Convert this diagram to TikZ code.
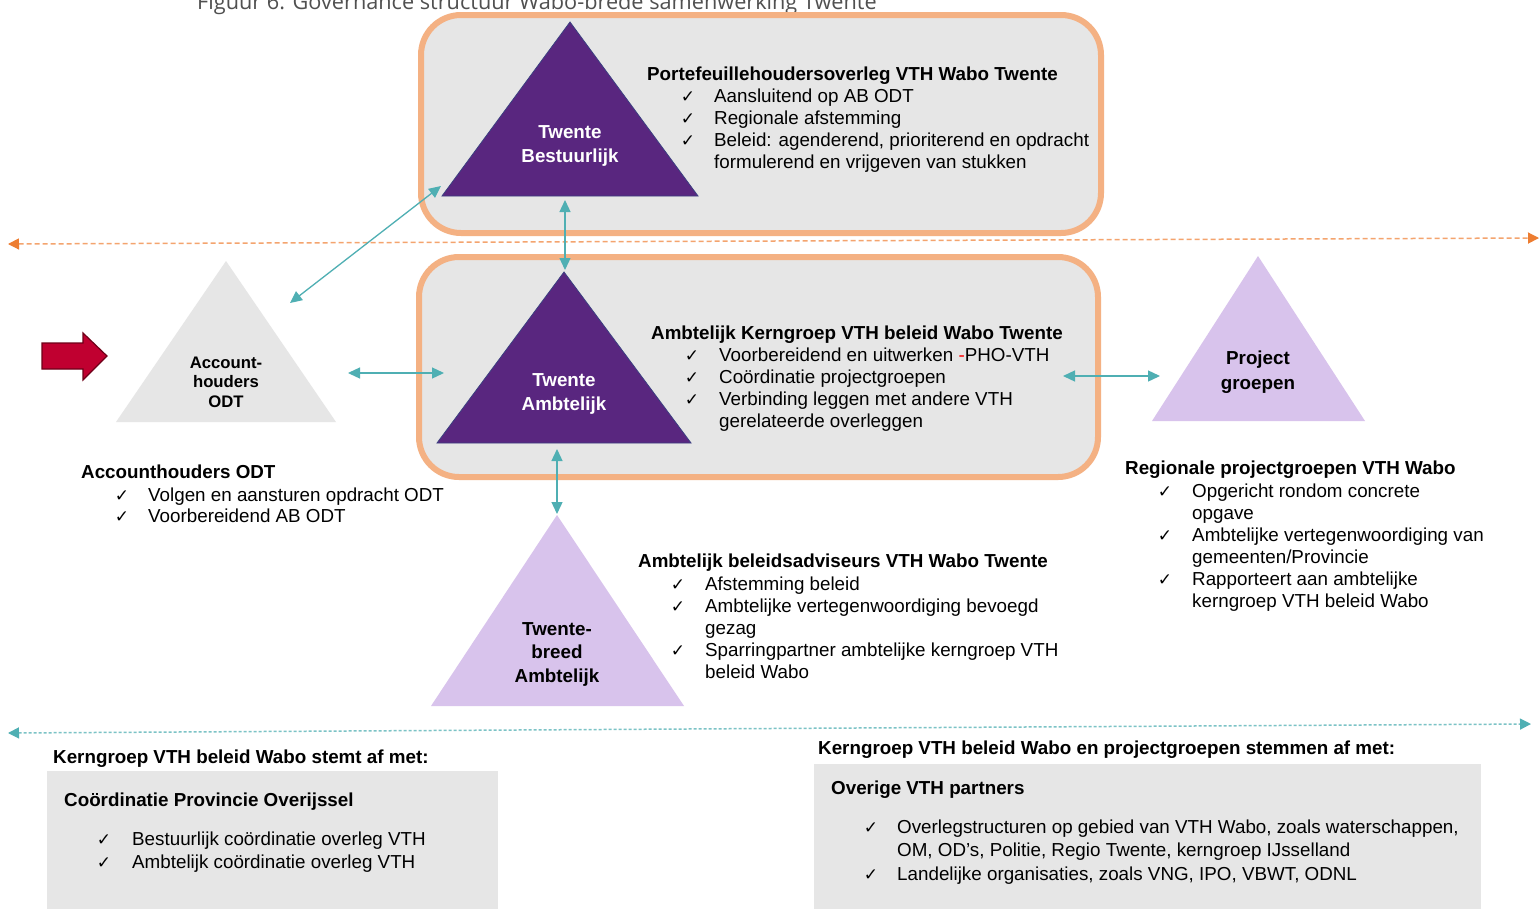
\documentclass[tikz,border=0pt]{standalone}
\usepackage{fontspec}
\setmainfont{Liberation Sans}
\newfontfamily\symf{DejaVu Sans}
\newfontfamily\capf{Open Sans}
\usetikzlibrary{arrows.meta}
\definecolor{orB}{HTML}{F4B183}
\definecolor{boxg}{HTML}{E6E6E6}
\definecolor{purp}{HTML}{59267F}
\definecolor{purpedge}{HTML}{3B3F80}
\definecolor{lav}{HTML}{D8C3EC}
\definecolor{tealc}{HTML}{4FAFB3}
\definecolor{oline}{HTML}{F4A46E}
\definecolor{otip}{HTML}{ED7D31}
\definecolor{redf}{HTML}{C00030}
\definecolor{redd}{HTML}{6E0018}
\definecolor{capg}{HTML}{505050}
\tikzset{
  roundbox/.style={draw=orB, line width=6pt, fill=boxg, rounded corners=40pt},
  tridark/.style={fill=purp, draw=purpedge, line width=0.8pt},
  trilav/.style={fill=lav},
  trigray/.style={fill=boxg},
  tritext/.style={align=center, inner sep=0, font=\bfseries\fontsize{18.8}{24.5}\selectfont},
  txt/.style={anchor=base west, inner sep=0, font=\fontsize{18.8}{22}\selectfont},
  ttl/.style={anchor=base west, inner sep=0, font=\bfseries\fontsize{18.8}{22}\selectfont},
  chk/.style={anchor=base, inner sep=0, font=\symf\fontsize{17}{22}\selectfont},
  link/.style={draw=tealc, line width=1.3pt, {Triangle[length=12pt,width=11pt]}-{Triangle[length=12pt,width=11pt]}},
  plainbox/.style={fill=boxg},
}
\begin{document}
\begin{tikzpicture}[x=1pt,y=-1pt]
\path[use as bounding box] (0,0) rectangle (1539,908);
\clip (0,0) rectangle (1539,908);
\fill[white] (0,0) rectangle (1539,908);

% caption (cut off at top, as in the reference)
\node[anchor=base west, inner sep=0, font=\capf\fontsize{21.7}{26}\selectfont, text=capg] (caption) at (197,9) {Figuur 6: Governance structuur Wabo-brede samenwerking Twente};

% rounded boxes
\draw[roundbox] (421,15) rectangle (1101,233);
\draw[roundbox] (419,257) rectangle (1098,477);

% separator lines
\coordinate (oL) at (8,244);
\coordinate (oR) at (1539,238);
\draw[draw=oline, line width=1.5pt, dash pattern=on 5pt off 3pt, {Triangle[length=11pt,width=11pt,color=otip]}-{Triangle[length=11pt,width=11pt,color=otip]}] (oL) -- (oR);
\coordinate (tL) at (8,733);
\coordinate (tR) at (1531,724);
\draw[draw=tealc!75, line width=1.5pt, dash pattern=on 3pt off 2pt, {Triangle[length=11pt,width=11pt,color=tealc]}-{Triangle[length=11pt,width=11pt,color=tealc]}] (tL) -- (tR);

% triangles
\draw[tridark] (570,22) -- (442,196) -- (698,196) -- cycle;
\draw[tridark] (564,272) -- (437,443) -- (691,443) -- cycle;
\fill[trigray] (226,261) -- (116,422) -- (336,422) -- cycle;
\fill[trilav] (1258,256) -- (1152,421) -- (1365,421) -- cycle;
\fill[trilav] (557,515) -- (431,706) -- (684,706) -- cycle;

\node[tritext, text=white] (bestuur) at (570,146) {Twente\\Bestuurlijk};
\node[tritext, text=white] (ambt) at (564,394) {Twente\\Ambtelijk};
\node[tritext, font=\bfseries\fontsize{16.7}{19.5}\selectfont] (acc) at (226,382) {Account-\\houders\\ODT};
\node[tritext] (proj) at (1258,372) {Project\\groepen};
\node[tritext, font=\bfseries\fontsize{18.8}{23.5}\selectfont] (breed) at (557,654) {Twente-\\breed\\Ambtelijk};

% red block arrow
\draw[fill=redf, draw=redd, line width=1.2pt] (42,343) -- (83,343) -- (83,333) -- (107,356) -- (83,380) -- (83,369) -- (42,369) -- cycle;

% teal connectors
\coordinate (accNE) at (290,303);
\coordinate (bestSW) at (441,186);
\coordinate (bestB) at (565,200);
\coordinate (ambtT) at (565,270);
\coordinate (accE) at (348,373);
\coordinate (ambtW) at (444,373);
\coordinate (boxE) at (1063,376);
\coordinate (projW) at (1160,376);
\coordinate (ambtB) at (557,449);
\coordinate (breedT) at (557,514);
\draw[link] (accNE) -- (bestSW);
\draw[link] (bestB) -- (ambtT);
\draw[link] (accE) -- (ambtW);
\draw[link] (boxE) -- (projW);
\draw[link] (ambtB) -- (breedT);

% top box text
\node[ttl] (t1) at (647,80.5) {Portefeuillehoudersoverleg VTH Wabo Twente};
\node[chk] (c11) at (688,102.5) {✓};
\node[txt] (l11) at (714,102.5) {Aansluitend op AB ODT};
\node[chk] (c12) at (688,124.5) {✓};
\node[txt] (l12) at (714,124.5) {Regionale afstemming};
\node[chk] (c13) at (688,146.5) {✓};
\node[txt] (l13) at (714,146.5) {Beleid: agenderend, prioriterend en opdracht};
\node[txt] (l14) at (714,168.5) {formulerend en vrijgeven van stukken};

% middle box text
\node[ttl] (t2) at (651,339.5) {Ambtelijk Kerngroep VTH beleid Wabo Twente};
\node[chk] (c21) at (692,361.5) {✓};
\node[txt] (l21) at (719,361.5) {Voorbereidend en uitwerken {\color{red}-}PHO-VTH};
\node[chk] (c22) at (692,383.5) {✓};
\node[txt] (l22) at (719,383.5) {Coördinatie projectgroepen};
\node[chk] (c23) at (692,405.5) {✓};
\node[txt] (l23) at (719,405.5) {Verbinding leggen met andere VTH};
\node[txt] (l24) at (719,427.5) {gerelateerde overleggen};

% accounthouders text
\node[ttl] (t3) at (81,478.5) {Accounthouders ODT};
\node[chk] (c31) at (122,501.5) {✓};
\node[txt] (l31) at (148,501.5) {Volgen en aansturen opdracht ODT};
\node[chk] (c32) at (122,522.5) {✓};
\node[txt] (l32) at (148,522.5) {Voorbereidend AB ODT};

% regionale projectgroepen text
\node[ttl] (t4) at (1125,474.5) {Regionale projectgroepen VTH Wabo};
\node[chk] (c41) at (1165,497.5) {✓};
\node[txt] (l41) at (1192,497.5) {Opgericht rondom concrete};
\node[txt] (l42) at (1192,519.5) {opgave};
\node[chk] (c43) at (1165,541.5) {✓};
\node[txt] (l43) at (1192,541.5) {Ambtelijke vertegenwoordiging van};
\node[txt] (l44) at (1192,563.5) {gemeenten/Provincie};
\node[chk] (c45) at (1165,585.5) {✓};
\node[txt] (l45) at (1192,585.5) {Rapporteert aan ambtelijke};
\node[txt] (l46) at (1192,607.5) {kerngroep VTH beleid Wabo};

% beleidsadviseurs text
\node[ttl] (t5) at (638,567.5) {Ambtelijk beleidsadviseurs VTH Wabo Twente};
\node[chk] (c51) at (678,590.5) {✓};
\node[txt] (l51) at (705,590.5) {Afstemming beleid};
\node[chk] (c52) at (678,612.5) {✓};
\node[txt] (l52) at (705,612.5) {Ambtelijke vertegenwoordiging bevoegd};
\node[txt] (l53) at (705,634.5) {gezag};
\node[chk] (c54) at (678,656.5) {✓};
\node[txt] (l54) at (705,656.5) {Sparringpartner ambtelijke kerngroep VTH};
\node[txt] (l55) at (705,678.5) {beleid Wabo};

% bottom left
\node[ttl] (t6) at (53,763.5) {Kerngroep VTH beleid Wabo stemt af met:};
\fill[plainbox] (47,771) rectangle (498,915);
\node[ttl] (t7) at (64,806.5) {Coördinatie Provincie Overijssel};
\node[chk] (c71) at (104,845.5) {✓};
\node[txt] (l71) at (132,845.5) {Bestuurlijk coördinatie overleg VTH};
\node[chk] (c72) at (104,868.5) {✓};
\node[txt] (l72) at (132,868.5) {Ambtelijk coördinatie overleg VTH};

% bottom right
\node[ttl] (t8) at (818,754.5) {Kerngroep VTH beleid Wabo en projectgroepen stemmen af met:};
\fill[plainbox] (814,764) rectangle (1481,915);
\node[ttl] (t9) at (831,794.5) {Overige VTH partners};
\node[chk] (c91) at (871,833.5) {✓};
\node[txt] (l91) at (897,833.5) {Overlegstructuren op gebied van VTH Wabo, zoals waterschappen,};
\node[txt] (l92) at (897,856.5) {OM, OD’s, Politie, Regio Twente, kerngroep IJsselland};
\node[chk] (c93) at (871,880.5) {✓};
\node[txt] (l93) at (897,880.5) {Landelijke organisaties, zoals VNG, IPO, VBWT, ODNL};
\end{tikzpicture}
\end{document}
